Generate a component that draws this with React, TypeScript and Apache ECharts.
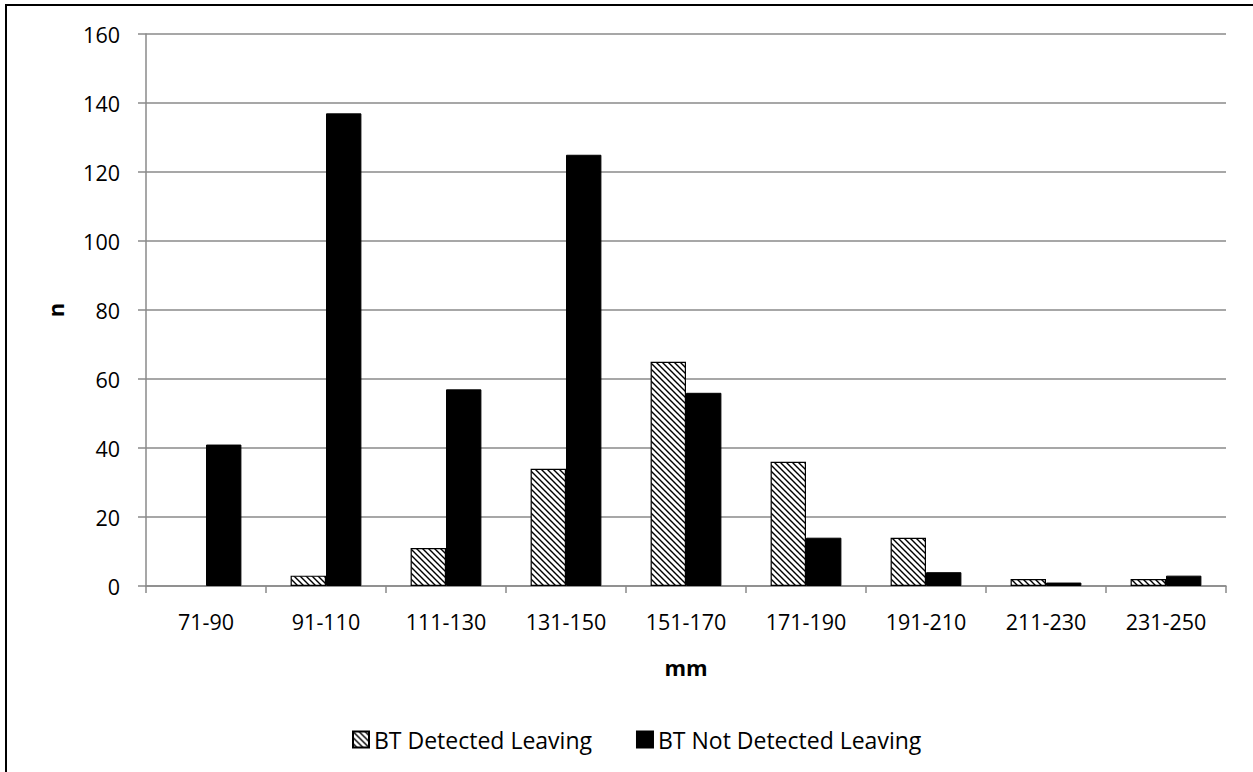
import React, { useEffect, useRef } from "react";
import * as echarts from "echarts";

const categories = ["71-90", "91-110", "111-130", "131-150", "151-170", "171-190", "191-210", "211-230", "231-250"];
const detectedLeaving = [0, 3, 11, 34, 65, 36, 14, 2, 2];
const notDetectedLeaving = [41, 137, 57, 125, 56, 14, 4, 1, 3];
const seriesNames = ["BT Detected Leaving", "BT Not Detected Leaving"];
const xTitle = "mm";
const yTitle = "n";
const yMin = 0;
const yMax = 160;
const yStep = 20;

const FONT = "'Open Sans', sans-serif";
const GRID_GRAY = "#8a8a8a";

function makeHatch(): HTMLCanvasElement {
  const s = 6;
  const c = document.createElement("canvas");
  c.width = s;
  c.height = s;
  const ctx = c.getContext("2d")!;
  ctx.fillStyle = "#ffffff";
  ctx.fillRect(0, 0, s, s);
  ctx.strokeStyle = "#000000";
  ctx.lineWidth = 1.4;
  ctx.beginPath();
  ctx.moveTo(-1, -1);
  ctx.lineTo(s + 1, s + 1);
  ctx.moveTo(-1, s - 1);
  ctx.lineTo(1, s + 1);
  ctx.moveTo(s - 1, -1);
  ctx.lineTo(s + 1, 1);
  ctx.stroke();
  return c;
}

// zero-height bars are not outlined
const withZeroHidden = (arr: number[]) =>
  arr.map((v) => (v === 0 ? { value: v, itemStyle: { borderWidth: 0 } } : v));

export default function App() {
  const ref = useRef<HTMLDivElement>(null);
  useEffect(() => {
    if (!ref.current) return;
    const chart = echarts.init(ref.current, null, { renderer: "svg" });
    const hatch = { image: makeHatch(), repeat: "repeat" } as any;
    chart.setOption({
      animation: false,
      backgroundColor: "#ffffff",
      textStyle: { fontFamily: FONT, color: "#000" },
      graphic: [
        {
          type: "rect",
          shape: { x: 6, y: 5, width: 1400, height: 900 },
          style: { fill: "none", stroke: "#000", lineWidth: 2 },
          silent: true,
        },
      ],
      grid: { left: 146, top: 34, width: 1080, height: 552 },
      legend: {
        left: 347,
        top: 723,
        itemWidth: 16,
        itemHeight: 16,
        itemGap: 44,
        icon: "rect",
        textStyle: { fontFamily: FONT, fontSize: 23, color: "#000" },
        data: seriesNames,
      },
      xAxis: {
        type: "category",
        data: categories,
        name: xTitle,
        nameLocation: "middle",
        nameGap: 70,
        nameTextStyle: { fontFamily: FONT, fontSize: 22, fontWeight: "bold", color: "#000" },
        axisLine: { lineStyle: { color: GRID_GRAY, width: 1.5 } },
        axisTick: { show: true, length: 7, lineStyle: { color: GRID_GRAY, width: 1.5 } },
        axisLabel: { fontFamily: FONT, fontSize: 21.5, color: "#000", margin: 24 },
      },
      yAxis: {
        type: "value",
        min: yMin,
        max: yMax,
        interval: yStep,
        name: yTitle,
        nameLocation: "middle",
        nameGap: 80,
        nameTextStyle: { fontFamily: FONT, fontSize: 22, fontWeight: "bold", color: "#000" },
        axisLine: { show: true, lineStyle: { color: GRID_GRAY, width: 1.5 } },
        axisTick: { show: true, length: 8, lineStyle: { color: GRID_GRAY, width: 1.5 } },
        axisLabel: { fontFamily: FONT, fontSize: 21.5, color: "#000", margin: 26 },
        splitLine: { lineStyle: { color: GRID_GRAY, width: 1.5 } },
      },
      series: [
        {
          name: seriesNames[0],
          type: "bar",
          data: withZeroHidden(detectedLeaving),
          barGap: "0%",
          barCategoryGap: "41%",
          itemStyle: { color: hatch, borderColor: "#000", borderWidth: 1.2 },
        },
        {
          name: seriesNames[1],
          type: "bar",
          data: notDetectedLeaving,
          barGap: "0%",
          barCategoryGap: "41%",
          itemStyle: { color: "#000", borderColor: "#000", borderWidth: 1 },
        },
      ],
    });
    return () => chart.dispose();
  }, []);
  return (
    <div
      ref={ref}
      style={{ position: "absolute", left: 0, top: 0, width: 1253, height: 772 }}
    />
  );
}
